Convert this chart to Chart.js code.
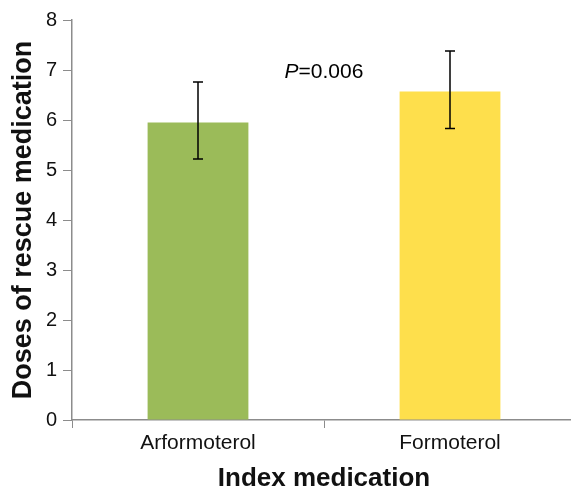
<!DOCTYPE html>
<html>
<head>
<meta charset="utf-8">
<script src="https://cdn.jsdelivr.net/npm/chart.js@4"></script>
<style>
  html, body { margin: 0; padding: 0; background: #fff; overflow: hidden; }
  #wrap { width: 571px; height: 489px; overflow: hidden; }
</style>
</head>
<body>
<div id="wrap"><canvas id="chart" width="576" height="489"></canvas></div>
<script>
const categories = ["Arformoterol", "Formoterol"];
const means = [5.95, 6.57];
const errLow = [5.22, 5.83];
const errHigh = [6.76, 7.38];
const barColors = ["#9bbb59", "#fedf4c"];
const yMin = 0, yMax = 8, yStep = 1;
const pLabel = { italic: "P", rest: "=0.006", atValue: 6.96 };

const FONT = "'Liberation Sans', Arial, sans-serif";
const axisGray = "#8c8c8c";

const errorBars = {
    id: "errorBars",
    afterDatasetsDraw(chart) {
        const ctx = chart.ctx;
        const y = chart.scales.y;
        const meta = chart.getDatasetMeta(0);
        ctx.save();
        ctx.strokeStyle = "#000";
        ctx.lineWidth = 1.5;
        meta.data.forEach((bar, i) => {
            const top = y.getPixelForValue(errHigh[i]);
            const bot = y.getPixelForValue(errLow[i]);
            ctx.beginPath();
            ctx.moveTo(bar.x, top); ctx.lineTo(bar.x, bot);
            ctx.moveTo(bar.x - 5, top); ctx.lineTo(bar.x + 5, top);
            ctx.moveTo(bar.x - 5, bot); ctx.lineTo(bar.x + 5, bot);
            ctx.stroke();
        });
        // p value between the bars
        const cx = chart.scales.x.getPixelForValue(0.5);
        const cy = y.getPixelForValue(pLabel.atValue);
        ctx.fillStyle = "#000";
        ctx.textBaseline = "middle";
        ctx.font = "italic 21px " + FONT;
        const w1 = ctx.measureText(pLabel.italic).width;
        ctx.font = "21px " + FONT;
        const w2 = ctx.measureText(pLabel.rest).width;
        let x0 = cx - (w1 + w2) / 2;
        ctx.font = "italic 21px " + FONT;
        ctx.fillText(pLabel.italic, x0, cy);
        ctx.font = "21px " + FONT;
        ctx.fillText(pLabel.rest, x0 + w1, cy);
        ctx.restore();
    }
};

new Chart(document.getElementById("chart"), {
    type: "bar",
    data: {
        labels: categories,
        datasets: [{
            data: means,
            backgroundColor: barColors,
            barPercentage: 0.4,
            categoryPercentage: 1
        }]
    },
    options: {
        responsive: false,
        animation: false,
        layout: { padding: { top: 20, right: 0, bottom: 0, left: 0 } },
        plugins: { legend: { display: false }, tooltip: { enabled: false } },
        scales: {
            x: {
                afterFit: s => { s.height = 69; },
                grid: { drawOnChartArea: false, tickLength: 8, color: axisGray, offset: true },
                border: { color: axisGray, width: 1.5 },
                ticks: { color: "#111", padding: 3, font: { family: FONT, size: 21 } },
                title: {
                    display: true, text: "Index medication", color: "#111",
                    font: { family: FONT, size: 26, weight: "bold", lineHeight: 1 },
                    padding: { top: 0, bottom: -3 }
                }
            },
            y: {
                min: yMin, max: yMax,
                afterFit: s => { s.width = 72; },
                grid: { drawOnChartArea: false, tickLength: 9, color: axisGray },
                border: { color: axisGray, width: 1.5 },
                ticks: { stepSize: yStep, color: "#111", padding: 6, font: { family: FONT, size: 20 } },
                title: {
                    display: true, text: "Doses of rescue medication", color: "#111",
                    font: { family: FONT, size: 27, weight: "bold", lineHeight: 1 },
                    padding: { top: 10, bottom: 0 }
                }
            }
        }
    },
    plugins: [errorBars]
});
</script>
</body>
</html>
